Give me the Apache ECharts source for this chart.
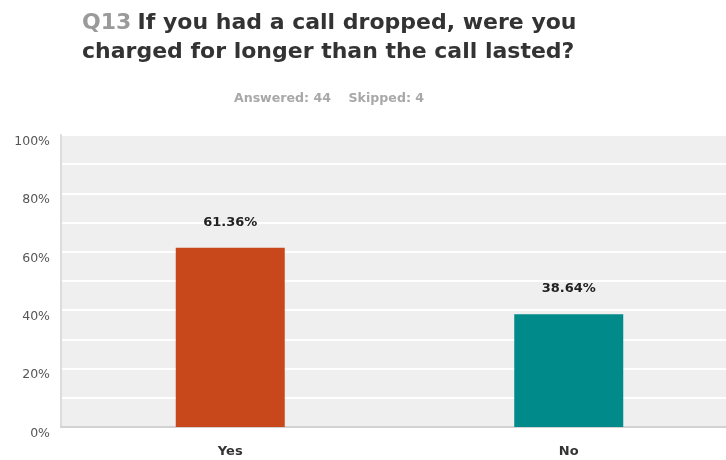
<!DOCTYPE html>
<html>
<head>
<meta charset="utf-8">
<script src="https://cdn.jsdelivr.net/npm/echarts@6/dist/echarts.min.js"></script>
<style>
  html, body { margin: 0; padding: 0; background: #fff; overflow: hidden; }
  /* the plot runs a little past the right edge of the page */
  #chart { width: 738px; height: 460px; }
</style>
</head>
<body>
<div id="chart"></div>
<script>
// Survey answers for Q13
const categories = ['Yes', 'No'];
const percents = [61.36, 38.64];
const barColors = ['#c8471b', '#008a8a'];
const yTicks = [0, 20, 40, 60, 80, 100];
const answered = 44;
const skipped = 4;

const chart = echarts.init(document.getElementById('chart'));
const FONT = '"DejaVu Sans", Verdana, sans-serif';

chart.setOption({
  animation: false,
  title: [
    {
      left: 77,
      top: 4,
      text: '{q|Q13} {t|If you had a call dropped, were you}\n{t|charged for longer than the call lasted?}',
      textStyle: {
        fontFamily: FONT,
        rich: {
          q: { fontFamily: FONT, fontSize: 22, fontWeight: 'bold', color: '#9a9a9a', lineHeight: 29 },
          t: { fontFamily: FONT, fontSize: 22, fontWeight: 'bold', color: '#333333', lineHeight: 29 }
        }
      }
    },
    {
      left: 324,
      textAlign: 'center',
      top: 87,
      text: 'Answered: ' + answered + '    Skipped: ' + skipped,
      textStyle: { fontFamily: FONT, fontSize: 12.6, fontWeight: 'bold', color: '#a8a8a8' }
    }
  ],
  grid: {
    left: 61, top: 135, right: 0, bottom: 33,
    show: true, backgroundColor: '#efefef', borderWidth: 0,
    containLabel: false
  },
  xAxis: {
    type: 'category',
    data: categories,
    axisTick: { show: false },
    axisLine: { show: true, lineStyle: { color: '#d2d2d2', width: 2 } },
    axisLabel: {
      margin: 18,
      fontFamily: FONT, fontSize: 13, fontWeight: 'bold', color: '#333'
    }
  },
  yAxis: {
    type: 'value',
    min: 0, max: 100, interval: 10,
    axisLine: { show: true, lineStyle: { color: '#dcdcdc', width: 2 } },
    axisTick: { show: false },
    splitLine: { show: true, lineStyle: { color: '#ffffff', width: 2 } },
    axisLabel: {
      margin: 11,
      verticalAlign: 'top',
      fontFamily: FONT, fontSize: 12.5, color: '#555',
      formatter: v => (yTicks.indexOf(v) >= 0 ? v + '%' : '')
    }
  },
  series: [{
    type: 'bar',
    barWidth: 109,
    data: percents.map((v, i) => ({ value: v, itemStyle: { color: barColors[i] } })),
    label: {
      show: true,
      position: 'top',
      distance: 19,
      fontFamily: FONT, fontSize: 13, fontWeight: 'bold', color: '#222',
      formatter: p => p.value.toFixed(2) + '%'
    }
  }]
});
</script>
</body>
</html>
